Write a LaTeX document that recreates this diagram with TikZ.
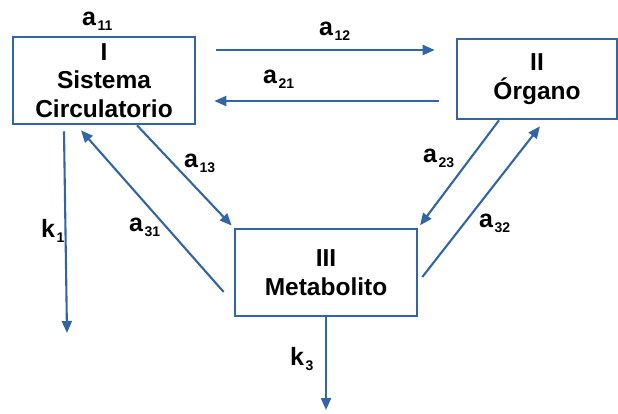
\documentclass[tikz,border=0pt]{standalone}
\usepackage{fontspec}
\setmainfont{Liberation Sans}
\usetikzlibrary{arrows.meta, positioning}
\definecolor{myblue}{RGB}{50,101,166}
\newcommand{\rate}[2]{#1\kern1.5pt\raisebox{-5pt}{\fontsize{14}{14}\selectfont #2}}
\tikzset{
  compbox/.style={rectangle, draw=myblue, line width=2.6pt, align=center,
    inner sep=0pt, font=\fontsize{24.5}{28.5}\selectfont\bfseries},
  arrow/.style={-{Triangle[length=12pt,width=10pt]}, line width=2.1pt, color=myblue},
  line/.style={line width=2.1pt, color=myblue},
  ratelbl/.style={anchor=base west, inner sep=0pt, font=\fontsize{25}{25}\selectfont\bfseries}
}
\begin{document}
\begin{tikzpicture}[x=1pt, y=-1pt]
  \useasboundingbox (0,0) rectangle (618,413);

  % Compartments
  \node[compbox, minimum width=182pt, minimum height=87pt] (I) at (104,80.5) {I\\Sistema\\Circulatorio};
  \node[compbox, minimum width=160pt, minimum height=80pt] (II) at (537,79) {II\\Órgano};
  \node[compbox, minimum width=182pt, minimum height=87pt] (III) at (326,272.5) {III\\Metabolito};

  % Elimination end points
  \coordinate (k1end) at (67,333);
  \coordinate (k3end) at (326,410);

  % Exchanges
  \draw[arrow, shorten <=20pt, shorten >=21pt] ([yshift=30.5pt]I.east) -- ([yshift=30.5pt]I.east -| II.west);
  \draw[arrow, shorten <=17pt, shorten >=18pt] ([yshift=-22pt]II.west) -- ([yshift=-22pt]II.west -| I.east);
  \draw[arrow, shorten >=3pt] ([xshift=33pt]I.south) -- (III.north west);
  \draw[arrow] ([shift={(-10pt,-19.5pt)}]III.west) -- ([shift={(-23pt,-5pt)}]I.south);
  \draw[arrow, shorten >=3pt] ([xshift=-38pt]II.south) -- (III.north east);
  \draw[arrow] ([shift={(4pt,-4.5pt)}]III.east) -- ([shift={(3pt,-6pt)}]II.south);
  \draw[arrow] ([shift={(-40pt,-6pt)}]I.south) -- (k1end);
  \draw[arrow] (III.south) -- (k3end);

  % Rate constants
  \node[ratelbl] (la11) at (82,25) {\rate{a}{11}};
  \node[ratelbl] (la12) at (319,35) {\rate{a}{12}};
  \node[ratelbl] (la21) at (263,83) {\rate{a}{21}};
  \node[ratelbl] (la13) at (184,167) {\rate{a}{13}};
  \node[ratelbl] (la23) at (423,162) {\rate{a}{23}};
  \node[ratelbl] (la31) at (129,231) {\rate{a}{31}};
  \node[ratelbl] (la32) at (479,227) {\rate{a}{32}};
  \node[ratelbl] (lk1) at (41,237) {\rate{k}{1}};
  \node[ratelbl] (lk3) at (290,365) {\rate{k}{3}};
\end{tikzpicture}
\end{document}
